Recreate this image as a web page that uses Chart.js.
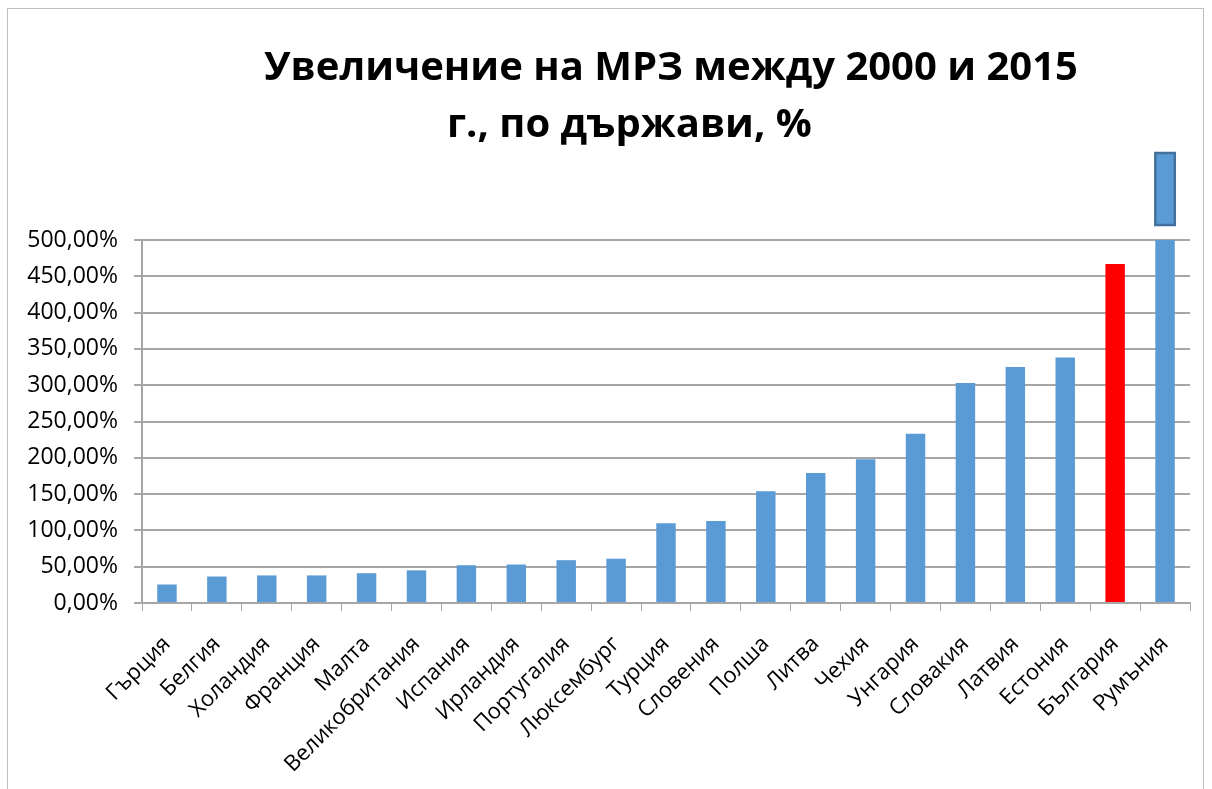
<!DOCTYPE html>
<html>
<head>
<meta charset="utf-8">
<script src="https://cdn.jsdelivr.net/npm/chart.js@4"></script>
<style>
  body { margin: 0; background: #fff; }
  #wrap { width: 1212px; height: 789px; }
</style>
</head>
<body>
<div id="wrap"><canvas id="Chart"></canvas></div>
<script>
var countries = ['Гърция', 'Белгия', 'Холандия', 'Франция', 'Малта', 'Великобритания', 'Испания',
  'Ирландия', 'Португалия', 'Люксембург', 'Турция', 'Словения', 'Полша', 'Литва', 'Чехия',
  'Унгария', 'Словакия', 'Латвия', 'Естония', 'България', 'Румъния'];
var increase = [25.5, 36.5, 38, 38, 41, 45, 52, 53, 59, 61, 110, 113, 154, 179, 198,
  233, 303, 325, 338, 467, 600];
var yTicks = [0, 50, 100, 150, 200, 250, 300, 350, 400, 450, 500];
var titleLines = ['Увеличение на МРЗ между 2000 и 2015', 'г., по държави, %'];

var barColors = countries.map(function (c) { return c == 'България' ? '#ff0000' : '#5b9bd5'; });

// frame, title and the "off scale" box above the last bar
var decor = {
  id: 'decor',
  beforeDraw: function (chart) {
    var ctx = chart.ctx;
    ctx.save();
    ctx.strokeStyle = '#bfbfbf';
    ctx.lineWidth = 1;
    ctx.strokeRect(7.5, 8.5, 1196, 800);
    ctx.restore();
  },
  afterDraw: function (chart) {
    var ctx = chart.ctx;
    ctx.save();
    ctx.fillStyle = '#000';
    ctx.font = 'bold 40px "Open Sans"';
    ctx.textBaseline = 'alphabetic';
    ctx.textAlign = 'center';
    ctx.fillText(titleLines[0], 671, 80);
    ctx.textAlign = 'left';
    ctx.fillText(titleLines[1], 447, 137);

    var meta = chart.getDatasetMeta(0);
    var last = meta.data[meta.data.length - 1];
    var w = last.width;
    var top = chart.chartArea.top;
    ctx.fillStyle = '#5b9bd5';
    ctx.strokeStyle = '#41719c';
    ctx.lineWidth = 2.5;
    ctx.fillRect(last.x - w / 2, top - 87, w, 72);
    ctx.strokeRect(last.x - w / 2, top - 87, w, 72);
    ctx.restore();
  }
};

const ctx = document.getElementById('Chart').getContext('2d');
const chart = new Chart(ctx, {
  type: 'bar',
  data: {
    labels: countries,
    datasets: [{
      data: increase,
      backgroundColor: barColors,
      borderWidth: 0,
      barPercentage: 0.75,
      categoryPercentage: 0.52
    }]
  },
  options: {
    responsive: true,
    maintainAspectRatio: false,
    animation: false,
    layout: { padding: { left: 8, right: 22, top: 240, bottom: 0 } },
    plugins: { legend: { display: false }, tooltip: { enabled: false } },
    scales: {
      x: {
        afterFit: function (axis) { axis.height = 186; },
        grid: { drawOnChartArea: false, color: '#a6a6a6', tickLength: 8 },
        border: { color: '#a6a6a6', width: 2 },
        ticks: {
          color: '#000', maxRotation: 45, minRotation: 45, autoSkip: false,
          font: { family: '"Open Sans"', size: 22 }, padding: 20
        }
      },
      y: {
        min: 0, max: 500,
        afterFit: function (axis) { axis.width = 134; },
        afterBuildTicks: function (axis) { axis.ticks = yTicks.map(function (v) { return { value: v }; }); },
        grid: { color: '#a6a6a6', lineWidth: 2, tickLength: 8 },
        border: { color: '#a6a6a6', width: 2 },
        ticks: {
          color: '#000', padding: 16,
          font: { family: '"Open Sans"', size: 23 },
          callback: function (v) { return v.toFixed(2).replace('.', ',') + '%'; }
        }
      }
    }
  },
  plugins: [decor]
});
</script>
</body>
</html>
